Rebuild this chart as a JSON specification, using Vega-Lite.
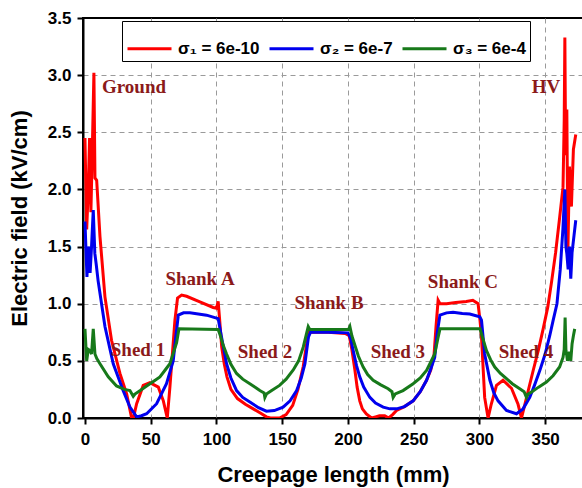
{
  "$schema": "https://vega.github.io/schema/vega-lite/v6.json",
  "width": 500,
  "height": 400,
  "autosize": {"type": "none"},
  "padding": {"left": 83, "top": 18, "right": 0, "bottom": 70},
  "config": {
    "view": {"stroke": "black", "strokeWidth": 2},
    "font": "Liberation Sans"
  },
  "layer": [
    {
      "data": {"values": [
        {"s":"s1","x":0,"y":2.45},{"s":"s1","x":1.3,"y":1.65},{"s":"s1","x":2.5,"y":2.0},{"s":"s1","x":3.5,"y":2.45},{"s":"s1","x":4.5,"y":1.8},{"s":"s1","x":5.5,"y":2.3},{"s":"s1","x":6.8,"y":3.02},{"s":"s1","x":7.6,"y":2.1},{"s":"s1","x":8.9,"y":2.08},{"s":"s1","x":11.4,"y":1.59},{"s":"s1","x":15.2,"y":1.06},{"s":"s1","x":20.2,"y":0.68},{"s":"s1","x":26.6,"y":0.39},{"s":"s1","x":31.7,"y":0.21},{"s":"s1","x":35.5,"y":0.0},{"s":"s1","x":36.8,"y":0.0},{"s":"s1","x":39.3,"y":0.125},{"s":"s1","x":44.3,"y":0.285},{"s":"s1","x":49.4,"y":0.31},{"s":"s1","x":55.8,"y":0.27},{"s":"s1","x":59.6,"y":0.15},{"s":"s1","x":62.6,"y":0.0},{"s":"s1","x":64.6,"y":0.27},{"s":"s1","x":68.4,"y":0.855},{"s":"s1","x":70.4,"y":1.05},{"s":"s1","x":73.5,"y":1.075},{"s":"s1","x":77.3,"y":1.065},{"s":"s1","x":87.4,"y":1.016},{"s":"s1","x":97.5,"y":0.967},{"s":"s1","x":100.0,"y":0.96},{"s":"s1","x":101.3,"y":1.02},{"s":"s1","x":102.5,"y":0.85},{"s":"s1","x":104,"y":0.62},{"s":"s1","x":106,"y":0.47},{"s":"s1","x":108,"y":0.36},{"s":"s1","x":111,"y":0.25},{"s":"s1","x":116,"y":0.17},{"s":"s1","x":122,"y":0.12},{"s":"s1","x":128,"y":0.08},{"s":"s1","x":134,"y":0.04},{"s":"s1","x":138,"y":0.01},{"s":"s1","x":141,"y":0.0},{"s":"s1","x":148,"y":0.0},{"s":"s1","x":153,"y":0.03},{"s":"s1","x":158,"y":0.11},{"s":"s1","x":162,"y":0.25},{"s":"s1","x":166,"y":0.45},{"s":"s1","x":169,"y":0.68},{"s":"s1","x":170.5,"y":0.75},{"s":"s1","x":185,"y":0.75},{"s":"s1","x":198,"y":0.74},{"s":"s1","x":201,"y":0.72},{"s":"s1","x":203,"y":0.6},{"s":"s1","x":205.3,"y":0.42},{"s":"s1","x":207,"y":0.27},{"s":"s1","x":209,"y":0.15},{"s":"s1","x":211,"y":0.08},{"s":"s1","x":214,"y":0.035},{"s":"s1","x":218,"y":0.0},{"s":"s1","x":221,"y":0.01},{"s":"s1","x":224,"y":0.02},{"s":"s1","x":228,"y":0.02},{"s":"s1","x":231,"y":0.0},{"s":"s1","x":234,"y":0.03},{"s":"s1","x":237,"y":0.066},{"s":"s1","x":243,"y":0.1},{"s":"s1","x":249.6,"y":0.15},{"s":"s1","x":255,"y":0.23},{"s":"s1","x":259.8,"y":0.33},{"s":"s1","x":263,"y":0.42},{"s":"s1","x":265.5,"y":0.55},{"s":"s1","x":267,"y":0.8},{"s":"s1","x":268.6,"y":1.03},{"s":"s1","x":270,"y":1.0},{"s":"s1","x":275,"y":1.0},{"s":"s1","x":282,"y":1.01},{"s":"s1","x":290,"y":1.02},{"s":"s1","x":295,"y":1.03},{"s":"s1","x":299,"y":1.0},{"s":"s1","x":300.5,"y":0.85},{"s":"s1","x":301.6,"y":0.71},{"s":"s1","x":303,"y":0.4},{"s":"s1","x":304,"y":0.18},{"s":"s1","x":306.6,"y":0.0},{"s":"s1","x":309,"y":0.12},{"s":"s1","x":313,"y":0.285},{"s":"s1","x":318,"y":0.33},{"s":"s1","x":324.4,"y":0.26},{"s":"s1","x":329.4,"y":0.12},{"s":"s1","x":332,"y":0.0},{"s":"s1","x":334.6,"y":0.12},{"s":"s1","x":338,"y":0.28},{"s":"s1","x":341,"y":0.42},{"s":"s1","x":345,"y":0.6},{"s":"s1","x":348.5,"y":0.78},{"s":"s1","x":352,"y":0.97},{"s":"s1","x":355,"y":1.2},{"s":"s1","x":358,"y":1.45},{"s":"s1","x":361,"y":1.75},{"s":"s1","x":363.6,"y":2.02},{"s":"s1","x":364.5,"y":2.6},{"s":"s1","x":365,"y":3.33},{"s":"s1","x":365.6,"y":2.3},{"s":"s1","x":366.5,"y":2.7},{"s":"s1","x":367.3,"y":1.45},{"s":"s1","x":368.5,"y":2.2},{"s":"s1","x":370,"y":1.85},{"s":"s1","x":371.5,"y":2.35},{"s":"s1","x":373.3,"y":2.48},
        {"s":"s2","x":0,"y":1.72},{"s":"s2","x":1.5,"y":1.235},{"s":"s2","x":2.5,"y":1.5},{"s":"s2","x":3.2,"y":1.47},{"s":"s2","x":3.9,"y":1.27},{"s":"s2","x":5,"y":1.5},{"s":"s2","x":6.3,"y":1.82},{"s":"s2","x":7.5,"y":1.44},{"s":"s2","x":8.5,"y":1.35},{"s":"s2","x":10,"y":1.2},{"s":"s2","x":15.2,"y":0.8},{"s":"s2","x":21.5,"y":0.475},{"s":"s2","x":29,"y":0.24},{"s":"s2","x":34.2,"y":0.095},{"s":"s2","x":39.3,"y":0.01},{"s":"s2","x":43,"y":0.02},{"s":"s2","x":46.9,"y":0.037},{"s":"s2","x":54.5,"y":0.125},{"s":"s2","x":62,"y":0.3},{"s":"s2","x":67.1,"y":0.5},{"s":"s2","x":69,"y":0.7},{"s":"s2","x":71,"y":0.9},{"s":"s2","x":75,"y":0.92},{"s":"s2","x":79.8,"y":0.92},{"s":"s2","x":92.5,"y":0.9},{"s":"s2","x":101.3,"y":0.87},{"s":"s2","x":104,"y":0.7},{"s":"s2","x":107.7,"y":0.475},{"s":"s2","x":111,"y":0.35},{"s":"s2","x":115.3,"y":0.24},{"s":"s2","x":120,"y":0.18},{"s":"s2","x":125.4,"y":0.14},{"s":"s2","x":132,"y":0.09},{"s":"s2","x":138,"y":0.06},{"s":"s2","x":144,"y":0.065},{"s":"s2","x":150.7,"y":0.095},{"s":"s2","x":156,"y":0.15},{"s":"s2","x":161,"y":0.24},{"s":"s2","x":164.5,"y":0.35},{"s":"s2","x":167.3,"y":0.475},{"s":"s2","x":170,"y":0.71},{"s":"s2","x":171.5,"y":0.75},{"s":"s2","x":185,"y":0.75},{"s":"s2","x":200,"y":0.745},{"s":"s2","x":202,"y":0.7},{"s":"s2","x":204,"y":0.59},{"s":"s2","x":206.5,"y":0.46},{"s":"s2","x":209,"y":0.36},{"s":"s2","x":212,"y":0.27},{"s":"s2","x":216.7,"y":0.18},{"s":"s2","x":221,"y":0.13},{"s":"s2","x":226.8,"y":0.095},{"s":"s2","x":232,"y":0.08},{"s":"s2","x":237,"y":0.08},{"s":"s2","x":243,"y":0.1},{"s":"s2","x":249.6,"y":0.15},{"s":"s2","x":255,"y":0.23},{"s":"s2","x":259.8,"y":0.33},{"s":"s2","x":263,"y":0.43},{"s":"s2","x":266,"y":0.53},{"s":"s2","x":268,"y":0.75},{"s":"s2","x":270,"y":0.9},{"s":"s2","x":275,"y":0.92},{"s":"s2","x":280,"y":0.925},{"s":"s2","x":287,"y":0.915},{"s":"s2","x":292.7,"y":0.91},{"s":"s2","x":300.3,"y":0.885},{"s":"s2","x":301.6,"y":0.855},{"s":"s2","x":304,"y":0.56},{"s":"s2","x":308,"y":0.33},{"s":"s2","x":311,"y":0.22},{"s":"s2","x":314.2,"y":0.15},{"s":"s2","x":320.6,"y":0.066},{"s":"s2","x":328.2,"y":0.037},{"s":"s2","x":333.2,"y":0.08},{"s":"s2","x":338.3,"y":0.18},{"s":"s2","x":342,"y":0.29},{"s":"s2","x":346,"y":0.417},{"s":"s2","x":350,"y":0.56},{"s":"s2","x":353.5,"y":0.72},{"s":"s2","x":356,"y":0.85},{"s":"s2","x":359,"y":1.0},{"s":"s2","x":361.5,"y":1.3},{"s":"s2","x":363.5,"y":1.65},{"s":"s2","x":365,"y":2.0},{"s":"s2","x":365.8,"y":1.5},{"s":"s2","x":366.5,"y":1.44},{"s":"s2","x":367.5,"y":1.3},{"s":"s2","x":368.5,"y":1.5},{"s":"s2","x":369.5,"y":1.22},{"s":"s2","x":370.5,"y":1.45},{"s":"s2","x":372,"y":1.6},{"s":"s2","x":373.3,"y":1.73},
        {"s":"s3","x":0,"y":0.78},{"s":"s3","x":1.3,"y":0.5},{"s":"s3","x":2.5,"y":0.6},{"s":"s3","x":3.8,"y":0.59},{"s":"s3","x":5,"y":0.56},{"s":"s3","x":6.3,"y":0.78},{"s":"s3","x":7.6,"y":0.56},{"s":"s3","x":9,"y":0.52},{"s":"s3","x":11.4,"y":0.475},{"s":"s3","x":17.7,"y":0.36},{"s":"s3","x":24,"y":0.28},{"s":"s3","x":30,"y":0.25},{"s":"s3","x":34.2,"y":0.24},{"s":"s3","x":36.7,"y":0.19},{"s":"s3","x":38,"y":0.21},{"s":"s3","x":42,"y":0.24},{"s":"s3","x":46.9,"y":0.28},{"s":"s3","x":52,"y":0.32},{"s":"s3","x":57,"y":0.36},{"s":"s3","x":61,"y":0.42},{"s":"s3","x":64.6,"y":0.475},{"s":"s3","x":67.5,"y":0.58},{"s":"s3","x":69.7,"y":0.66},{"s":"s3","x":71.5,"y":0.78},{"s":"s3","x":101.3,"y":0.775},{"s":"s3","x":103,"y":0.72},{"s":"s3","x":105,"y":0.64},{"s":"s3","x":107.7,"y":0.56},{"s":"s3","x":111,"y":0.47},{"s":"s3","x":115.3,"y":0.39},{"s":"s3","x":120,"y":0.34},{"s":"s3","x":125.4,"y":0.3},{"s":"s3","x":130,"y":0.265},{"s":"s3","x":133,"y":0.24},{"s":"s3","x":136.2,"y":0.22},{"s":"s3","x":136.8,"y":0.18},{"s":"s3","x":138,"y":0.21},{"s":"s3","x":142,"y":0.24},{"s":"s3","x":148,"y":0.285},{"s":"s3","x":153,"y":0.34},{"s":"s3","x":158.4,"y":0.42},{"s":"s3","x":162.5,"y":0.5},{"s":"s3","x":166,"y":0.62},{"s":"s3","x":169.8,"y":0.8},{"s":"s3","x":171,"y":0.775},{"s":"s3","x":200.5,"y":0.775},{"s":"s3","x":201.5,"y":0.8},{"s":"s3","x":203,"y":0.72},{"s":"s3","x":205.3,"y":0.636},{"s":"s3","x":208,"y":0.54},{"s":"s3","x":211.6,"y":0.446},{"s":"s3","x":215,"y":0.38},{"s":"s3","x":219.2,"y":0.33},{"s":"s3","x":225,"y":0.29},{"s":"s3","x":230.6,"y":0.256},{"s":"s3","x":233.5,"y":0.23},{"s":"s3","x":234.4,"y":0.18},{"s":"s3","x":236,"y":0.21},{"s":"s3","x":241.9,"y":0.24},{"s":"s3","x":249.6,"y":0.3},{"s":"s3","x":255,"y":0.35},{"s":"s3","x":259.8,"y":0.417},{"s":"s3","x":263,"y":0.49},{"s":"s3","x":266,"y":0.56},{"s":"s3","x":268.5,"y":0.7},{"s":"s3","x":270,"y":0.78},{"s":"s3","x":300.5,"y":0.78},{"s":"s3","x":302,"y":0.72},{"s":"s3","x":305.4,"y":0.59},{"s":"s3","x":308.5,"y":0.51},{"s":"s3","x":311.7,"y":0.446},{"s":"s3","x":316,"y":0.39},{"s":"s3","x":320.6,"y":0.344},{"s":"s3","x":325,"y":0.3},{"s":"s3","x":330.7,"y":0.256},{"s":"s3","x":334,"y":0.23},{"s":"s3","x":335.8,"y":0.18},{"s":"s3","x":337,"y":0.21},{"s":"s3","x":339.5,"y":0.226},{"s":"s3","x":345,"y":0.27},{"s":"s3","x":351,"y":0.314},{"s":"s3","x":356,"y":0.37},{"s":"s3","x":361,"y":0.446},{"s":"s3","x":363.6,"y":0.53},{"s":"s3","x":364.5,"y":0.6},{"s":"s3","x":365.2,"y":0.88},{"s":"s3","x":365.8,"y":0.6},{"s":"s3","x":367,"y":0.5},{"s":"s3","x":368.5,"y":0.58},{"s":"s3","x":369.5,"y":0.5},{"s":"s3","x":370.5,"y":0.65},{"s":"s3","x":371.5,"y":0.72},{"s":"s3","x":372.5,"y":0.78}
      ]},
      "mark": {"type": "line", "strokeWidth": 3, "clip": true},
      "encoding": {
        "x": {
          "field": "x", "type": "quantitative",
          "scale": {"domain": [-1.5, 378.8], "nice": false, "zero": false},
          "axis": {
            "title": "Creepage length (mm)",
            "values": [0,25,50,75,100,125,150,175,200,225,250,275,300,325,350,375],
            "labelExpr": "datum.value % 50 === 0 ? datum.label : ''",
            "tickSize": {"condition": {"test": "datum.value % 50 === 0", "value": 6}, "value": 3},
            "grid": true,
            "gridOpacity": {"condition": {"test": "datum.value % 50 === 0 && datum.value > 0", "value": 1}, "value": 0},
            "gridDash": [5, 4], "gridColor": "#9a9a9a", "gridWidth": 1,
            "domainColor": "black", "domainWidth": 2, "tickColor": "black", "tickWidth": 2,
            "labelFont": "Liberation Sans", "labelFontSize": 17, "labelFontWeight": "bold", "labelColor": "black",
            "labelPadding": 7, "labelFlush": false, "labelOverlap": false,
            "titleFont": "Liberation Sans", "titleFontSize": 22, "titleFontWeight": "bold", "titleColor": "black", "titlePadding": 17
          }
        },
        "y": {
          "field": "y", "type": "quantitative",
          "scale": {"domain": [0, 3.5], "nice": false},
          "axis": {
            "title": "Electric field (kV/cm)",
            "values": [0,0.25,0.5,0.75,1,1.25,1.5,1.75,2,2.25,2.5,2.75,3,3.25,3.5],
            "format": ".1f",
            "labelExpr": "datum.value % 0.5 === 0 ? datum.label : ''",
            "tickSize": {"condition": {"test": "datum.value % 0.5 === 0", "value": 6}, "value": 3},
            "grid": true,
            "gridOpacity": {"condition": {"test": "datum.value % 0.5 === 0 && datum.value > 0 && datum.value < 3.5", "value": 1}, "value": 0},
            "gridDash": [5, 4], "gridColor": "#9a9a9a", "gridWidth": 1,
            "domainColor": "black", "domainWidth": 2, "tickColor": "black", "tickWidth": 2,
            "labelFont": "Liberation Sans", "labelFontSize": 17, "labelFontWeight": "bold", "labelColor": "black",
            "labelPadding": 6, "labelFlush": false, "labelOverlap": false,
            "titleFont": "Liberation Sans", "titleFontSize": 22, "titleFontWeight": "bold", "titleColor": "black", "titlePadding": 16
          }
        },
        "color": {
          "field": "s", "type": "nominal",
          "scale": {"domain": ["s1", "s2", "s3"], "range": ["#ff0000", "#0000ee", "#17791a"]},
          "legend": {
            "title": null,
            "orient": "none", "legendX": 39, "legendY": 3,
            "direction": "horizontal",
            "labelExpr": "datum.label === 's1' ? 'σ₁ = 6e-10' : datum.label === 's2' ? 'σ₂ = 6e-7' : 'σ₃ = 6e-4'",
            "symbolType": "stroke", "symbolSize": 1936, "symbolStrokeWidth": 3,
            "labelFont": "Liberation Sans", "labelFontSize": 17, "labelFontWeight": "bold", "labelColor": "black",
            "labelOffset": 5, "columnPadding": 3,
            "strokeColor": "black", "fillColor": "white", "padding": 4
          }
        }
      }
    },
    {
      "data": {"values": [
        {"t": "Ground", "x": 37.3, "y": 2.9},
        {"t": "HV", "x": 350.6, "y": 2.9},
        {"t": "Shank A", "x": 87.5, "y": 1.216},
        {"t": "Shed 1", "x": 40.3, "y": 0.595},
        {"t": "Shed 2", "x": 136.9, "y": 0.577},
        {"t": "Shank B", "x": 185.6, "y": 1.006},
        {"t": "Shed 3", "x": 238, "y": 0.577},
        {"t": "Shank C", "x": 287.5, "y": 1.19},
        {"t": "Shed 4", "x": 335.4, "y": 0.577}
      ]},
      "mark": {"type": "text", "font": "Liberation Serif", "fontWeight": "bold", "fontSize": 19, "color": "#8b1a1a", "align": "center", "baseline": "middle"},
      "encoding": {
        "x": {"field": "x", "type": "quantitative"},
        "y": {"field": "y", "type": "quantitative"},
        "text": {"field": "t"}
      }
    }
  ]
}
